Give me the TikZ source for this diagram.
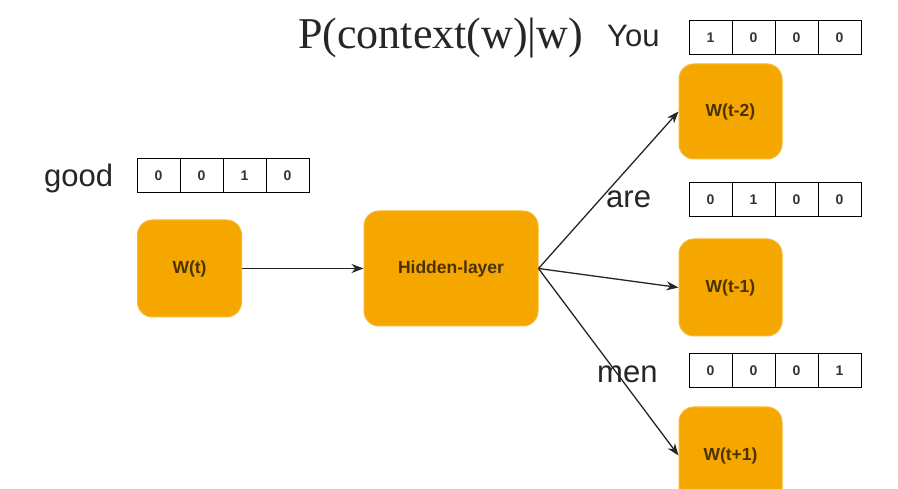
\documentclass[tikz,border=0pt]{standalone}
\usepackage{fontspec}
\setmainfont{Liberation Sans}
\newfontfamily\titlefont{Liberation Serif}
\usetikzlibrary{arrows.meta}
\definecolor{boxorange}{HTML}{F5A700}
\definecolor{boxedge}{HTML}{F8B830}
\definecolor{boxtext}{HTML}{4A3205}
\begin{document}
\begin{tikzpicture}[x=1pt,y=-1pt,
  obox/.style={rounded corners=15pt, fill=boxorange, draw=boxedge, line width=1pt,
    inner sep=0pt, font=\bfseries\fontsize{17.5}{20}\selectfont, text=boxtext},
  cell/.style={draw=black, line width=1pt, minimum width=43pt, minimum height=34pt,
    inner sep=0pt, font=\bfseries\fontsize{14}{16}\selectfont, text=black!80},
  word/.style={anchor=base west, inner sep=0pt, font=\fontsize{31}{34}\selectfont, text=black!85},
  arr/.style={-{Stealth[length=12pt,width=9pt]}, line width=1.3pt, draw=black!85}]
\useasboundingbox (0,0) rectangle (898,489);
\fill[white] (0,0) rectangle (898,489);

% title and words
\node[anchor=base west, inner sep=0pt, font=\titlefont\fontsize{44}{48}\selectfont, text=black!85] (title) at (298,49) {P(context(w)|w)};
\node[word] (you) at (607,47) {You};
\node[word] (good) at (44,187) {good};
\node[word] (are) at (606,208) {are};
\node[word] (men) at (597,382) {men};

% one-hot vectors
\node[cell] (g1) at (158.5,176) {0};
\node[cell] (g2) at (201.5,176) {0};
\node[cell] (g3) at (244.5,176) {1};
\node[cell] (g4) at (287.5,176) {0};

\node[cell] (y1) at (710.5,38) {1};
\node[cell] (y2) at (753.5,38) {0};
\node[cell] (y3) at (796.5,38) {0};
\node[cell] (y4) at (839.5,38) {0};

\node[cell] (a1) at (710.5,199.5) {0};
\node[cell] (a2) at (753.5,199.5) {1};
\node[cell] (a3) at (796.5,199.5) {0};
\node[cell] (a4) at (839.5,199.5) {0};

\node[cell] (m1) at (710.5,371) {0};
\node[cell] (m2) at (753.5,371) {0};
\node[cell] (m3) at (796.5,371) {0};
\node[cell] (m4) at (839.5,371) {1};

% orange boxes
\node[obox, minimum width=104pt, minimum height=97pt] (wt) at (189.5,268.5) {W(t)};
\node[obox, minimum width=174pt, minimum height=115pt] (hid) at (451,268.5) {Hidden-layer};
\node[obox, minimum width=103pt, minimum height=95pt] (wm2) at (730.5,111.5) {W(t-2)};
\node[obox, minimum width=103pt, minimum height=97pt] (wm1) at (730.5,287.5) {W(t-1)};
\node[obox, minimum width=103pt, minimum height=97pt] (wp1) at (730.5,455.5) {W(t+1)};

% connectors
\draw[arr] (wt.east) -- (hid.west);
\draw[arr] (hid.east) -- (wm2.west);
\draw[arr] (hid.east) -- (wm1.west);
\draw[arr] (hid.east) -- (wp1.west);
\end{tikzpicture}
\end{document}
